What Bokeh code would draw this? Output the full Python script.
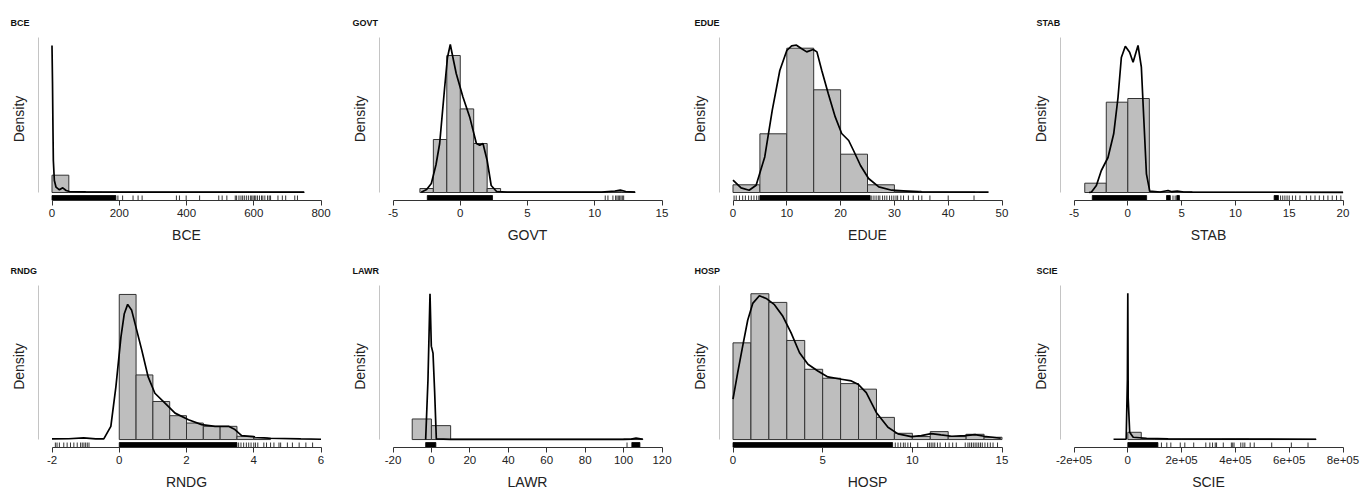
from bokeh.plotting import figure
from bokeh.layouts import gridplot
from bokeh.models import Range1d, LinearAxis, FixedTicker
from bokeh.embed import file_html
from bokeh.resources import INLINE

# ------------------------------------------------------------------ data
names = ["BCE", "GOVT", "EDUE", "STAB", "RNDG", "LAWR", "HOSP", "SCIE"]

bce_ticks = [0, 200, 400, 600, 800]
bce_tick_labels = ["0", "200", "400", "600", "800"]
bce_bin_start, bce_bin_width = 0, 50
bce_bar_density = [17.3, 0.8, 0.5, 0.4, 0.3, 0.3, 0.3, 0.3, 0.3, 0.3, 0.4, 0.4, 0.3, 0.3, 0.3]
bce_dens_x = [0, 1.5, 3, 4, 7, 12, 22, 32, 42, 52, 100, 200, 400, 600, 750]
bce_dens_y = [147, 110, 60, 32, 12, 5.3, 2.7, 4.7, 2, 1, 0.6, 0.4, 0.3, 0.3, 0.3]
bce_rug = [196, 210, 241, 256, 268, 370, 379, 399, 439, 496, 506, 520, 545, 549, 556, 562,
           567, 572, 578, 584, 590, 594, 598, 602, 606, 611, 617, 623, 627, 633, 641, 646,
           650, 672, 685, 695, 722, 730]
bce_rug_dense_from = [0]
bce_rug_dense_to = [190]

govt_ticks = [-5, 0, 5, 10, 15]
govt_tick_labels = ["-5", "0", "5", "10", "15"]
govt_bin_start, govt_bin_width = -3, 1
govt_bar_density = [4, 53, 137, 83.6, 49, 4, 0.3, 0.3, 0.3, 0.3, 0.3, 0.3, 0.3, 0.3, 0.8, 0.5]
govt_dens_x = [-2.9, -2.5, -2.15, -1.8, -1.53, -1.16, -0.95, -0.74, -0.5, -0.3, 0.2, 0.7,
               1.2, 1.45, 1.69, 2.0, 2.3, 2.7, 3.5, 10.5, 11.5, 11.9, 12.3, 13]
govt_dens_y = [0.3, 3, 9, 28, 49, 105, 135, 148, 132, 119, 95.6, 75.6,
               49, 47.3, 49, 32, 7, 1, 0.3, 0.3, 1.5, 2.5, 1, 0.3]
govt_rug = [10.78, 10.98, 11.35, 11.55, 11.65, 11.75, 11.85, 11.95, 12.05, 12.15]
govt_rug_dense_from = [-2.45]
govt_rug_dense_to = [2.4]

edue_ticks = [0, 10, 20, 30, 40, 50]
edue_tick_labels = ["0", "10", "20", "30", "40", "50"]
edue_bin_start, edue_bin_width = 0, 5
edue_bar_density = [7.7, 58.7, 144.3, 102.7, 38.3, 7.7, 1.3, 0.4, 0.3]
edue_dens_x = [0, 1.5, 3.0, 4.3, 5.9, 7.3, 8.7, 10, 10.9, 11.8, 12.7, 13.7, 14.9, 15.6,
               16.5, 17.7, 19.0, 20.2, 21.5, 22.4, 23.7, 25.2, 27.1, 29.5, 34.5, 47.5]
edue_dens_y = [12.3, 4.6, 2.3, 7.3, 35.6, 82.3, 122, 142, 146.6, 147.3, 144, 140.6, 143, 140.6,
               122, 99, 75.6, 59, 52, 42, 27, 14, 5.6, 2.3, 0.6, 0.3]
edue_rug = [0.2, 0.6, 1.2, 1.8, 2.3, 2.9, 3.4, 3.9, 4.4, 4.8, 25.8, 26.2, 26.6, 27.0, 27.3,
            27.8, 28.2, 28.6, 29.1, 29.5, 29.9, 30.3, 30.6, 31.2, 31.7, 32.6, 33.5, 34.5,
            35.1, 36.6, 40.0, 44.8]
edue_rug_dense_from = [5.0]
edue_rug_dense_to = [25.5]

stab_ticks = [-5, 0, 5, 10, 15, 20]
stab_tick_labels = ["-5", "0", "5", "10", "15", "20"]
stab_bin_start, stab_bin_width = -4, 2
stab_bar_density = [9.3, 90.3, 94, 0.5, 0.5, 0.3, 0.3, 0.3, 0.3, 0.3, 0.3, 0.3]
stab_dens_x = [-3.6, -3.39, -2.92, -2.46, -1.84, -1.31, -0.91, -0.6, -0.23, 0.17, 0.49, 0.95,
               1.26, 1.48, 1.73, 2.04, 3.0, 3.74, 4.1, 4.6, 5.2, 6.0, 20]
stab_dens_y = [0, 0.3, 7, 22, 35, 58.7, 95, 135, 146.3, 140.3, 130.3, 147,
               125.3, 75.3, 18.7, 1.3, 0.5, 2, 0.8, 1.5, 0.5, 0.3, 0.2]
stab_rug = [4.2, 4.4, 14.2, 14.4, 14.6, 14.8, 15.0, 15.3, 15.6, 16.0, 16.6, 17.0, 17.4,
            17.8, 18.2, 18.6, 19.0, 19.4, 19.8]
stab_rug_dense_from = [-3.3, 3.6, 4.55, 13.6]
stab_rug_dense_to = [1.75, 3.95, 4.8, 14.0]

rndg_ticks = [-2, 0, 2, 4, 6]
rndg_tick_labels = ["-2", "0", "2", "4", "6"]
rndg_bin_start, rndg_bin_width = 0, 0.5
rndg_bar_density = [146, 65, 38.3, 24, 16.6, 13.3, 13.3, 3.3, 1.6]
rndg_dens_x = [-2.0, -1.5, -1.06, -0.7, -0.46, -0.25, -0.10, 0.05, 0.15, 0.25, 0.37, 0.47,
               0.67, 0.86, 1.06, 1.36, 1.66, 2.06, 2.45, 2.85, 3.25, 3.44, 3.64, 4.04, 4.44,
               5.4, 6.0]
rndg_dens_y = [0.6, 0.8, 1.6, 0.6, 0.6, 13.3, 53, 103, 126.6, 136, 130, 116.6,
               90, 63, 46.6, 36.6, 26.6, 20, 15, 13.3, 13.3, 10, 4, 2.6, 1.3, 0.6, 0.3]
rndg_rug = [-1.9, -1.85, -1.78, -1.65, -1.55, -1.45, -1.35, -1.25, -1.15, -1.1, -1.05, -1.0,
            -0.95, -0.9, 3.55, 3.62, 3.7, 3.78, 3.85, 3.92, 4.0, 4.05, 4.12, 4.3, 4.38, 4.5,
            4.6, 4.75, 4.8, 5.0, 5.15, 5.35, 5.55, 5.75]
rndg_rug_dense_from = [0]
rndg_rug_dense_to = [3.5]

lawr_ticks = [-20, 0, 20, 40, 60, 80, 100, 120]
lawr_tick_labels = ["-20", "0", "20", "40", "60", "80", "100", "120"]
lawr_bin_start, lawr_bin_width = -10, 10
lawr_bar_density = [20.7, 14, 0.3, 0.3, 0.3, 0.3, 0.3, 0.3, 0.3, 0.3, 0.3, 0.6]
lawr_dens_x = [-3.0, -1.8, -0.74, -0.06, 0.82, 1.69, 2.55, 10, 100, 104, 106.5, 108, 110]
lawr_dens_y = [0, 60, 146.7, 94, 87, 47, 0.7, 0.2, 0.2, 0.5, 1.5, 1, 0.3]
lawr_rug = [101.8]
lawr_rug_dense_from = [-3.0, 104.3]
lawr_rug_dense_to = [2.3, 108.5]

hosp_ticks = [0, 5, 10, 15]
hosp_tick_labels = ["0", "5", "10", "15"]
hosp_bin_start, hosp_bin_width = 0, 1
hosp_bar_density = [97.3, 146.7, 138, 99.7, 70.7, 61.7, 56.3, 50.7, 22.3, 6.3, 3, 8, 3, 5.3, 2.3]
hosp_dens_x = [0, 0.26, 0.54, 0.82, 1.1, 1.47, 1.85, 2.31, 2.78, 3.24, 3.71, 4.18, 4.73, 5.29,
               6.04, 6.6, 6.97, 7.43, 7.99, 8.64, 9.2, 9.94, 10.5, 11.06, 11.6, 12.2, 12.93,
               13.5, 14.0, 14.93]
hosp_dens_y = [40.7, 67, 94, 120, 137, 144.7, 142, 135.7, 124, 107.3, 87.3, 75.7, 69, 63,
               60.7, 59, 55.7, 47.3, 27.3, 12.3, 5.7, 3, 4, 6, 4.7, 3.3, 4,
               5, 3.3, 1.3]
hosp_rug = [9.05, 9.2, 9.35, 9.5, 9.6, 9.75, 9.9, 10.3, 10.85, 10.95, 11.05, 11.15, 11.25,
            11.4, 11.55, 11.85, 12.05, 12.25, 12.45, 12.95, 13.1, 13.2, 13.3, 13.4, 13.5,
            13.6, 13.7, 13.8, 13.9, 14.05, 14.2, 14.35, 14.5, 14.75]
hosp_rug_dense_from = [0]
hosp_rug_dense_to = [8.9]

scie_ticks = [-200000, 0, 200000, 400000, 600000, 800000]
scie_tick_labels = ["-2e+05", "0", "2e+05", "4e+05", "6e+05", "8e+05"]
scie_bin_start, scie_bin_width = 0, 50000
scie_bar_density = [7.3, 1.0, 0.5, 0.4, 0.4, 0.4, 0.4, 0.5, 0.5, 0.3, 0.3, 0.3, 0.3, 0.3]
scie_dens_x = [-53000, -6000, -1500, 0, 1500, 7000, 20000, 70000, 150000, 400000, 700000]
scie_dens_y = [0.3, 0.5, 60, 147.3, 41, 7.3, 2.3, 1.3, 0.6, 0.4, 0.3]
scie_rug = [125000, 145000, 160000, 195000, 212000, 245000, 290000, 305000, 315000, 325000,
            330000, 355000, 385000, 390000, 395000, 420000, 428000, 435000, 455000, 470000,
            535000, 608000, 670000]
scie_rug_dense_from = [0]
scie_rug_dense_to = [112000]

panels = [
    (bce_ticks, bce_tick_labels, bce_bin_start, bce_bin_width, bce_bar_density, bce_dens_x, bce_dens_y, bce_rug, bce_rug_dense_from, bce_rug_dense_to),
    (govt_ticks, govt_tick_labels, govt_bin_start, govt_bin_width, govt_bar_density, govt_dens_x, govt_dens_y, govt_rug, govt_rug_dense_from, govt_rug_dense_to),
    (edue_ticks, edue_tick_labels, edue_bin_start, edue_bin_width, edue_bar_density, edue_dens_x, edue_dens_y, edue_rug, edue_rug_dense_from, edue_rug_dense_to),
    (stab_ticks, stab_tick_labels, stab_bin_start, stab_bin_width, stab_bar_density, stab_dens_x, stab_dens_y, stab_rug, stab_rug_dense_from, stab_rug_dense_to),
    (rndg_ticks, rndg_tick_labels, rndg_bin_start, rndg_bin_width, rndg_bar_density, rndg_dens_x, rndg_dens_y, rndg_rug, rndg_rug_dense_from, rndg_rug_dense_to),
    (lawr_ticks, lawr_tick_labels, lawr_bin_start, lawr_bin_width, lawr_bar_density, lawr_dens_x, lawr_dens_y, lawr_rug, lawr_rug_dense_from, lawr_rug_dense_to),
    (hosp_ticks, hosp_tick_labels, hosp_bin_start, hosp_bin_width, hosp_bar_density, hosp_dens_x, hosp_dens_y, hosp_rug, hosp_rug_dense_from, hosp_rug_dense_to),
    (scie_ticks, scie_tick_labels, scie_bin_start, scie_bin_width, scie_bar_density, scie_dens_x, scie_dens_y, scie_rug, scie_rug_dense_from, scie_rug_dense_to),
]

# ------------------------------------------------------------------ layout / style
FONT = "Liberation Sans"
PW, PH = 342, 246
FRAME_W, FRAME_H = 296, 163
LEFT = [38, 37, 35, 34]
TOP = [37, 39]
TICK_SPAN_PX = 269.0
PAD_PX = (FRAME_W - TICK_SPAN_PX) / 2
Y_TOP = 155
Y_BOTTOM = -8
RUG_TOP = -3


def make_panel(idx, name, ticks, labels, b0, bw, heights, dx, dy, rug, rfrom, rto):
    col, row = idx % 4, idx // 4
    L = LEFT[col]
    T = TOP[row]
    t0, t1 = ticks[0], ticks[-1]
    ppu = TICK_SPAN_PX / (t1 - t0)
    pad = PAD_PX / ppu
    p = figure(width=PW, height=PH, output_backend="svg", toolbar_location=None, tools="",
               x_range=Range1d(t0 - pad, t1 + pad), y_range=Range1d(Y_BOTTOM, Y_TOP),
               x_axis_type=None, y_axis_type=None,
               min_border_left=L, min_border_right=PW - L - FRAME_W,
               min_border_top=T, min_border_bottom=PH - T - FRAME_H,
               title=name)
    p.outline_line_color = None
    p.background_fill_color = "white"
    p.border_fill_color = "white"
    p.title.text_font = FONT
    p.title.text_font_size = "9px"
    p.title.text_font_style = "bold"
    p.title.text_color = "#111111"
    p.title.align = "left"
    p.title.offset = 10 - L
    p.title.standoff = 19

    xa = LinearAxis(ticker=FixedTicker(ticks=ticks), bounds=(t0, t1), axis_label=name)
    xa.major_label_overrides = {t: s for t, s in zip(ticks, labels)}
    xa.axis_line_color = "#333333"
    xa.major_tick_line_color = "#333333"
    xa.major_tick_out = 5
    xa.major_tick_in = 0
    xa.minor_tick_out = 0
    xa.minor_tick_in = 0
    xa.major_label_standoff = 3
    xa.major_label_text_font = FONT
    xa.major_label_text_font_size = "11.5px"
    xa.major_label_text_color = "#222222"
    xa.axis_label_standoff = 7
    xa.axis_label_text_font = FONT
    xa.axis_label_text_font_size = "14px"
    xa.axis_label_text_font_style = "normal"
    xa.axis_label_text_color = "#222222"
    p.add_layout(xa, "below")

    ya = LinearAxis(ticker=FixedTicker(ticks=[]), bounds=(0, Y_TOP), axis_label="Density")
    ya.axis_line_color = "#c4c4c4"
    ya.major_tick_out = 0
    ya.major_tick_in = 0
    ya.minor_tick_out = 0
    ya.minor_tick_in = 0
    ya.major_label_standoff = 0
    ya.major_label_text_font_size = "0px"
    ya.axis_label_standoff = 12
    ya.axis_label_text_font = FONT
    ya.axis_label_text_font_size = "14px"
    ya.axis_label_text_font_style = "normal"
    ya.axis_label_text_color = "#222222"
    p.add_layout(ya, "left")

    lefts = [b0 + i * bw for i in range(len(heights))]
    rights = [b0 + (i + 1) * bw for i in range(len(heights))]
    p.quad(left=lefts, right=rights, bottom=0, top=heights,
           fill_color="#bebebe", line_color="#333333", line_width=1)
    p.line(dx, dy, line_color="black", line_width=1.7)
    p.quad(left=rfrom, right=rto, bottom=Y_BOTTOM, top=RUG_TOP,
           fill_color="black", line_color="black", line_width=0.8)
    p.segment(x0=rug, y0=[Y_BOTTOM] * len(rug), x1=rug, y1=[RUG_TOP] * len(rug),
              line_color="black", line_width=0.8)
    return p


figs = [make_panel(i, names[i], *panels[i]) for i in range(8)]
grid = gridplot([figs[:4], figs[4:]], toolbar_location=None)

open("out.html", "w").write(file_html(grid, INLINE))
